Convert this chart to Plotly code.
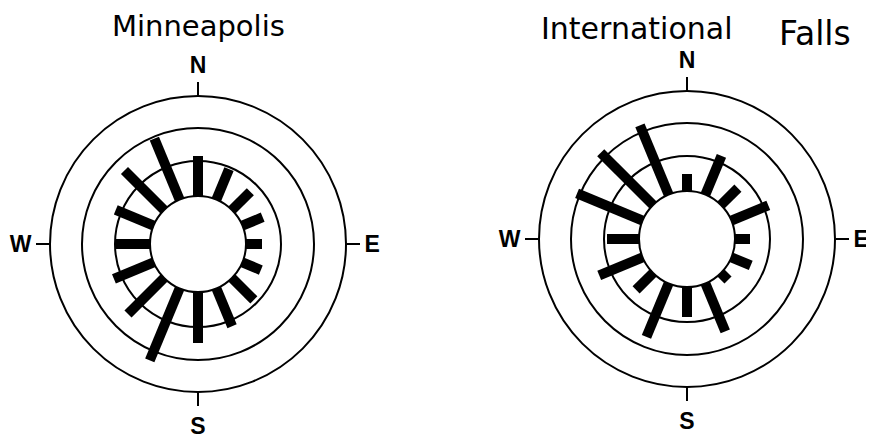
import plotly.graph_objects as go

# Wind direction categories (clockwise from north)
directions = ["N", "NNE", "NE", "ENE", "E", "ESE", "SE", "SSE",
              "S", "SSW", "SW", "WSW", "W", "WNW", "NW", "NNW"]
angles = [0, 22.5, 45, 67.5, 90, 112.5, 135, 157.5,
          180, 202.5, 225, 247.5, 270, 292.5, 315, 337.5]

# Bar lengths beyond the inner circle
minneapolis = [40, 33, 26, 22, 16, 20, 31, 41, 51, 78, 51, 43, 35, 41, 56, 66]
intl_falls = [17, 42, 24, 40, 15, 21, 10, 52, 30, 58, 24, 47, 32, 71, 74, 75]

# Rings: inner circle, two guide circles, outer circle
hole_r = 48
rings = [48, 83, 116]
outer_r = 148

compass_vals = [0, 90, 180, 270]
compass_text = ["N", "E", "S", "W"]


def spokes(lengths):
    r, theta = [], []
    for ang, length in zip(angles, lengths):
        r += [hole_r, hole_r + length, None]
        theta += [ang, ang, None]
    return r, theta


fig = go.Figure()

r1, t1 = spokes(minneapolis)
fig.add_trace(go.Scatterpolar(r=r1, theta=t1, mode="lines",
                              line=dict(color="black", width=10),
                              subplot="polar", showlegend=False))

r2, t2 = spokes(intl_falls)
fig.add_trace(go.Scatterpolar(r=r2, theta=t2, mode="lines",
                              line=dict(color="black", width=10),
                              subplot="polar2", showlegend=False))

W, H = 874, 445
OFF = 8  # page body margin


def polar_layout(cx, cy):
    cx, cy = cx - OFF, cy - OFF
    return dict(
        domain=dict(x=[(cx - outer_r) / W, (cx + outer_r) / W],
                    y=[1 - (cy + outer_r) / H, 1 - (cy - outer_r) / H]),
        bgcolor="white",
        radialaxis=dict(range=[0, outer_r], tickvals=rings, showticklabels=False,
                        ticks="", showline=False, showgrid=True,
                        gridcolor="black", gridwidth=2),
        angularaxis=dict(rotation=90, direction="clockwise",
                         tickvals=compass_vals, ticktext=compass_text,
                         ticks="outside", ticklen=13, tickwidth=2, tickcolor="black",
                         showline=True, linecolor="black", linewidth=2,
                         showgrid=False,
                         tickfont=dict(family="Liberation Sans", size=23,
                                       color="black", weight="bold")),
    )


fig.update_layout(
    width=W, height=H,
    margin=dict(l=0, r=0, t=0, b=0),
    paper_bgcolor="white",
    plot_bgcolor="white",
    polar=polar_layout(198, 244),
    polar2=polar_layout(687, 239),
    font=dict(family="DejaVu Sans", color="black"),
)

titles = [("Minneapolis", 198, 26, 29), ("International", 636, 28, 30), ("Falls", 815, 33, 33)]
for text, x, y, size in titles:
    fig.add_annotation(text=text, x=(x - OFF) / W, y=1 - (y - OFF) / H,
                       xref="paper", yref="paper",
                       showarrow=False, xanchor="center", yanchor="middle",
                       font=dict(family="DejaVu Sans", size=size, color="black"))

fig.write_html("out.html")
